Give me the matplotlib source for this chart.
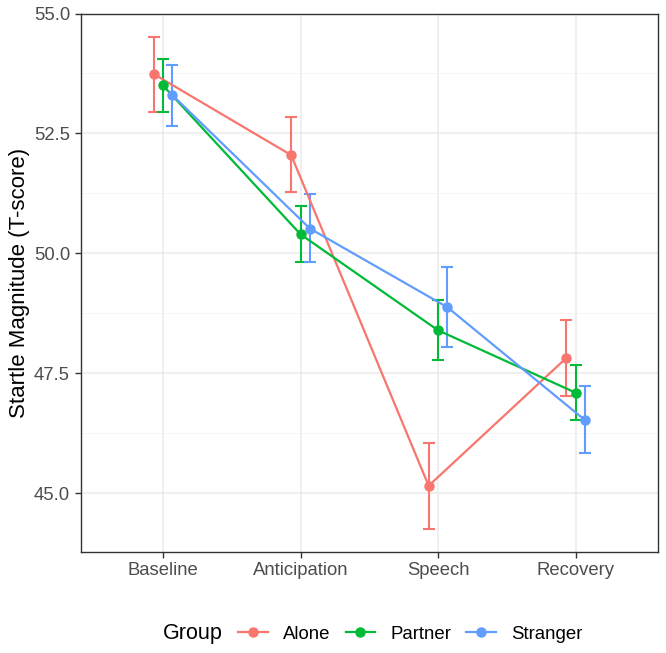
import matplotlib.pyplot as plt
from matplotlib.lines import Line2D

plt.rcParams["font.family"] = ["Liberation Sans", "DejaVu Sans"]

phases = ["Baseline", "Anticipation", "Speech", "Recovery"]
groups = ["Alone", "Partner", "Stranger"]
colors = ["#F8766D", "#00BA38", "#619CFF"]

alone_mean = [53.74, 52.05, 45.16, 47.82]
alone_low = [52.95, 51.28, 44.25, 47.02]
alone_high = [54.52, 52.85, 46.06, 48.62]

partner_mean = [53.50, 50.40, 48.40, 47.10]
partner_low = [52.95, 49.82, 47.78, 46.52]
partner_high = [54.05, 50.98, 49.03, 47.68]

stranger_mean = [53.30, 50.52, 48.88, 46.53]
stranger_low = [52.65, 49.82, 48.05, 45.85]
stranger_high = [53.93, 51.23, 49.72, 47.23]

series = [
    (alone_mean, alone_low, alone_high),
    (partner_mean, partner_low, partner_high),
    (stranger_mean, stranger_low, stranger_high),
]

fig = plt.figure(figsize=(6.66, 6.53), dpi=100)
ax = fig.add_axes([80.5 / 666, 1 - 552 / 653, (658 - 80.5) / 666, (552 - 13.5) / 653])

dodge = [-0.068, 0.0, 0.068]
for i, (mean, low, high) in enumerate(series):
    xs = [k + 1 + dodge[i] for k in range(len(phases))]
    yerr = [[m - l for m, l in zip(mean, low)], [h - m for m, h in zip(mean, high)]]
    ax.errorbar(xs, mean, yerr=yerr, color=colors[i], lw=1.6, marker="o",
                markersize=6.5, capsize=4, capthick=1.5, elinewidth=1.5, zorder=3)

ax.set_xlim(0.4, 4.6)
ax.set_ylim(43.78, 55.0)
ax.set_xticks(range(1, len(phases) + 1))
ax.set_xticklabels(phases)
ax.set_yticks([45.0, 47.5, 50.0, 52.5, 55.0])
ax.set_yticklabels(["45.0", "47.5", "50.0", "52.5", "55.0"])
ax.set_yticks([46.25, 48.75, 51.25, 53.75], minor=True)
ax.grid(which="major", color="#EBEBEB", lw=1.1, zorder=0)
ax.grid(which="minor", axis="y", color="#F4F4F4", lw=0.6, zorder=0)
ax.set_axisbelow(True)
ax.tick_params(axis="both", which="major", labelsize=13.3, labelcolor="#4D4D4D",
               color="#333333", length=4, width=1)
ax.tick_params(which="minor", length=0)
for s in ax.spines.values():
    s.set_color("#333333")
    s.set_linewidth(1)
ax.set_ylabel("Startle Magnitude (T-score)", fontsize=16, labelpad=3)

fig.text(163 / 666, 1 - 634 / 653, "Group", fontsize=15.5, va="center", ha="left")
handles = [Line2D([], [], color=c, lw=1.6, marker="o", markersize=6.5) for c in colors]
fig.legend(handles, groups, loc="center left", bbox_to_anchor=(231 / 666, 1 - 634 / 653),
           ncol=3, frameon=False, fontsize=13.4, handlelength=1.6, handletextpad=0.8,
           columnspacing=0.8, borderaxespad=0)

fig.savefig("out.png", dpi=100)
